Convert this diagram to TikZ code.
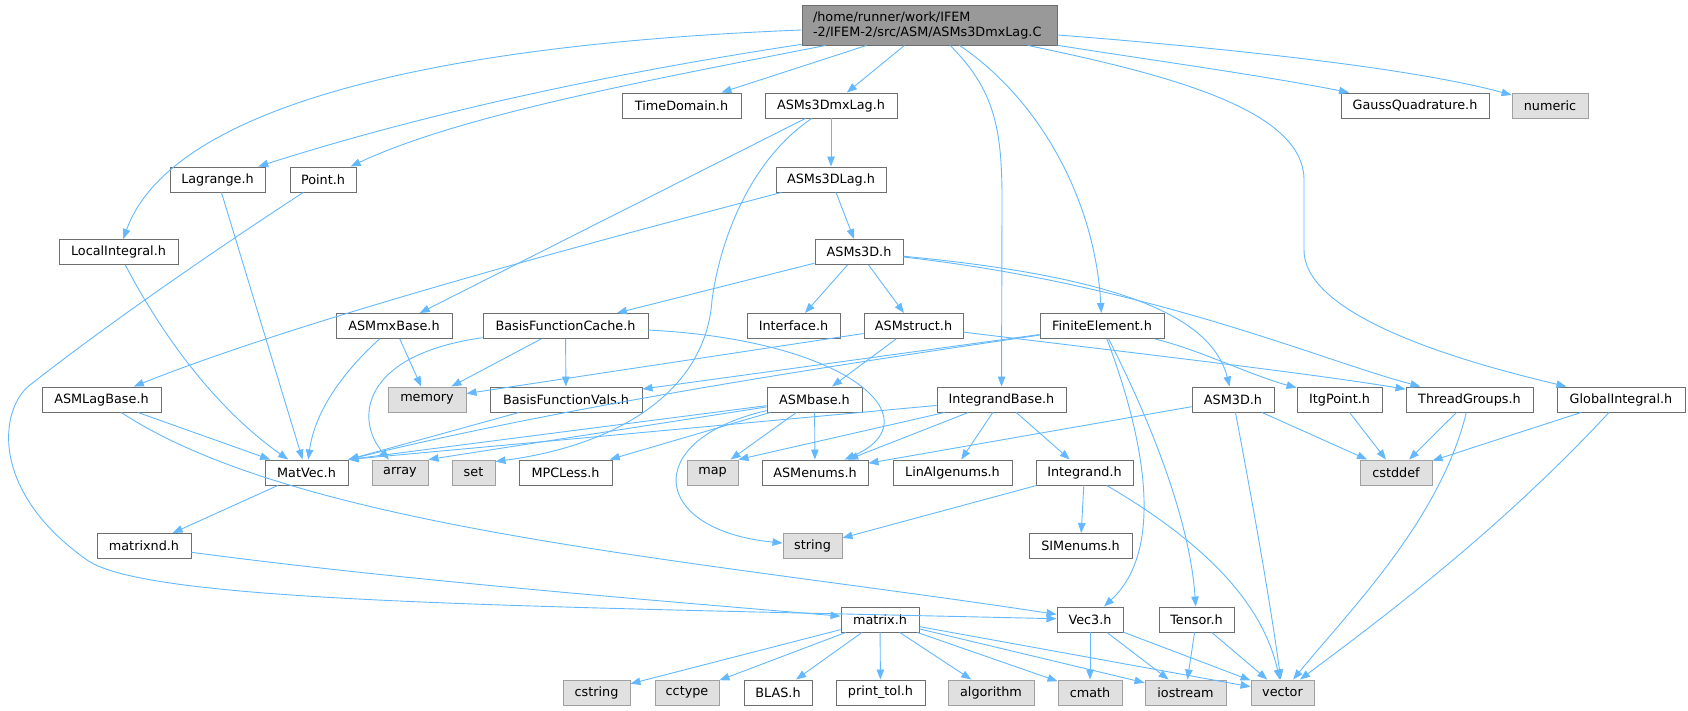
\documentclass[tikz,border=0pt]{standalone}
\usepackage{fontspec}
\setmainfont{DejaVu Sans}
\usetikzlibrary{arrows.meta}

\definecolor{edgeblue}{HTML}{63B8FF}
\definecolor{boxline}{HTML}{6E6E6E}
\definecolor{sysline}{HTML}{A0A0A0}
\definecolor{sysfill}{HTML}{E0E0E0}
\definecolor{mainfill}{HTML}{999999}

\tikzset{
    hfile/.style={draw=boxline, fill=white, line width=0.95pt, rectangle, minimum height=25pt, inner sep=0pt, font=\fontsize{12.8}{15}\selectfont},
    sysfile/.style={hfile, draw=sysline, fill=sysfill},
    mainfile/.style={hfile, fill=mainfill, minimum height=40pt, text width=233pt, inner xsep=11pt, align=left},
    dep/.style={draw=edgeblue, line width=0.9pt, -{Triangle[length=10pt,width=7.5pt]}},
}

\begin{document}
\begin{tikzpicture}[x=1pt, y=-1pt]

        \useasboundingbox (0,0) rectangle (1688,711);

        % Source file
        \node (main) [mainfile] at (929.5,25) {/home/runner/work/IFEM\\-2/IFEM-2/src/ASM/ASMs3DmxLag.C};

        % Header nodes
        \node (timedomain) [hfile, minimum width=119pt] at (681.5,105.5) {TimeDomain.h};
        \node (asmsmxlag) [hfile, minimum width=132pt] at (831,105.5) {ASMs3DmxLag.h};
        \node (gaussquad) [hfile, minimum width=148pt] at (1415,105.5) {GaussQuadrature.h};
        \node (numeric) [sysfile, minimum width=76pt] at (1550,105.5) {numeric};

        \node (lagrange) [hfile, minimum width=95pt] at (217.5,179.5) {Lagrange.h};
        \node (point) [hfile, minimum width=66pt] at (323,179.5) {Point.h};
        \node (asmslag) [hfile, minimum width=110pt] at (831,179.5) {ASMs3DLag.h};

        \node (localint) [hfile, minimum width=119pt] at (118.5,252) {LocalIntegral.h};
        \node (asmsthree) [hfile, minimum width=88pt] at (859,252) {ASMs3D.h};

        \node (asmmxbase) [hfile, minimum width=116pt] at (394,326) {ASMmxBase.h};
        \node (bfcache) [hfile, minimum width=165pt] at (565.5,326) {BasisFunctionCache.h};
        \node (interface) [hfile, minimum width=93pt] at (793.5,326) {Interface.h};
        \node (asmstruct) [hfile, minimum width=99pt] at (913.5,326) {ASMstruct.h};
        \node (finiteelem) [hfile, minimum width=124pt] at (1102,326) {FiniteElement.h};

        \node (asmlagbase) [hfile, minimum width=119pt] at (101.5,399.5) {ASMLagBase.h};
        \node (memory) [sysfile, minimum width=78pt] at (427,399.5) {memory};
        \node (bfvals) [hfile, minimum width=152pt] at (566,399.5) {BasisFunctionVals.h};
        \node (asmbase) [hfile, minimum width=95pt] at (814.5,399.5) {ASMbase.h};
        \node (integrandbase) [hfile, minimum width=129pt] at (1001.5,399.5) {IntegrandBase.h};
        \node (asmthreed) [hfile, minimum width=82pt] at (1233,399.5) {ASM3D.h};
        \node (itgpoint) [hfile, minimum width=85pt] at (1339.5,399.5) {ItgPoint.h};
        \node (threadgroups) [hfile, minimum width=127pt] at (1469.5,399.5) {ThreadGroups.h};
        \node (globalint) [hfile, minimum width=128pt] at (1621,399.5) {GlobalIntegral.h};

        \node (matvec) [hfile, minimum width=83pt] at (306.5,472.5) {MatVec.h};
        \node (array) [sysfile, minimum width=56pt] at (400,472.5) {array};
        \node (set) [sysfile, minimum width=43pt] at (473.5,472.5) {set};
        \node (mpcless) [hfile, minimum width=93pt] at (565.5,472.5) {MPCLess.h};
        \node (map) [sysfile, minimum width=51pt] at (712.5,472.5) {map};
        \node (asmenums) [hfile, minimum width=106pt] at (815,472.5) {ASMenums.h};
        \node (linalgenums) [hfile, minimum width=119pt] at (952.5,472.5) {LinAlgenums.h};
        \node (integrand) [hfile, minimum width=97pt] at (1084.5,472.5) {Integrand.h};
        \node (cstddef) [sysfile, minimum width=72pt] at (1396,472.5) {cstddef};

        \node (matrixnd) [hfile, minimum width=94pt] at (144,546) {matrixnd.h};
        \node (string) [sysfile, minimum width=59pt] at (812.5,546) {string};
        \node (simenums) [hfile, minimum width=103pt] at (1080.5,546) {SIMenums.h};

        \node (matrix) [hfile, minimum width=78pt] at (880,619.5) {matrix.h};
        \node (vecthree) [hfile, minimum width=66pt] at (1090,619.5) {Vec3.h};
        \node (tensor) [hfile, minimum width=75pt] at (1196.5,619.5) {Tensor.h};

        \node (cstring) [sysfile, minimum width=67pt] at (596.5,692.5) {cstring};
        \node (cctype) [sysfile, minimum width=64pt] at (687,692.5) {cctype};
        \node (blas) [hfile, minimum width=68pt] at (778,692.5) {BLAS.h};
        \node (printtol) [hfile, minimum width=89pt] at (880.5,692.5) {print\_tol.h};
        \node (algorithm) [sysfile, minimum width=86pt] at (991,692.5) {algorithm};
        \node (cmath) [sysfile, minimum width=64pt] at (1090,692.5) {cmath};
        \node (iostream) [sysfile, minimum width=81pt] at (1185.5,692.5) {iostream};
        \node (vector) [sysfile, minimum width=63pt] at (1282.5,692.5) {vector};

        % Includes of the source file
        \draw[dep] (main) .. controls (420,45) and (170,110) .. (localint);
        \draw[dep] (main) .. controls (600,75) and (420,115) .. (lagrange);
        \draw[dep] (main) .. controls (650,80) and (460,115) .. (point);
        \draw[dep] (main) -- (timedomain);
        \draw[dep] (main) -- (asmsmxlag);
        \draw[dep] (main) .. controls (995,90) and (1002,130) .. (1002,200) -- (integrandbase);
        \draw[dep] (main) .. controls (1040,100) and (1095,200) .. (finiteelem);
        \draw[dep] (main) .. controls (1150,60) and (1260,75) .. (gaussquad);
        \draw[dep] (main) .. controls (1250,50) and (1420,70) .. (numeric);
        \draw[dep] (main) .. controls (1170,75) and (1304,110) .. (1304,180) -- (1304,250) .. controls (1304,320) and (1480,366) .. (globalint);

        % Header includes
        \draw[dep] (asmsmxlag) -- (asmslag);
        \draw[dep] (asmsmxlag) -- (asmmxbase);
        \draw[dep] (asmsmxlag) .. controls (750,160) and (720,240) .. (712,300) .. controls (706,390) and (620,445) .. ([yshift=-2pt]set.north east);
        \draw[dep] (asmslag) -- (asmsthree);
        \draw[dep] (asmslag) .. controls (600,240) and (300,320) .. (asmlagbase);
        \draw[dep] (asmsthree) -- (bfcache);
        \draw[dep] (asmsthree) -- (interface);
        \draw[dep] (asmsthree) -- (asmstruct);
        \draw[dep] (asmsthree) .. controls (1100,275) and (1210,310) .. (asmthreed);
        \draw[dep] (asmsthree) .. controls (1150,285) and (1320,360) .. (threadgroups);
        \draw[dep] (localint) .. controls (170,350) and (225,415) .. (matvec);
        \draw[dep] (lagrange) -- (matvec);
        \draw[dep] (point) .. controls (200,260) and (100,330) .. (30,385) .. controls (0,408) and (-12,490) .. (87,560) .. controls (147,602) and (500,606) .. (vecthree);
        \draw[dep] (asmmxbase) -- (memory);
        \draw[dep] (asmmxbase) .. controls (345,370) and (315,410) .. (matvec);
        \draw[dep] (bfcache) -- (memory);
        \draw[dep] (bfcache) -- (bfvals);
        \draw[dep] (bfcache) .. controls (360,355) and (355,420) .. (array);
        \draw[dep] (bfcache) .. controls (850,340) and (935,420) .. (asmenums);
        \draw[dep] (asmstruct) -- (memory);
        \draw[dep] (asmstruct) -- (asmbase);
        \draw[dep] (asmstruct) .. controls (1150,355) and (1300,372) .. (threadgroups);
        \draw[dep] (finiteelem) -- (bfvals);
        \draw[dep] (finiteelem) .. controls (800,370) and (550,410) .. (matvec.north east);
        \draw[dep] (finiteelem) .. controls (1200,350) and (1250,375) .. (itgpoint);
        \draw[dep] (finiteelem) .. controls (1145,440) and (1165,550) .. (vecthree);
        \draw[dep] (finiteelem) .. controls (1150,420) and (1190,520) .. (tensor);
        \draw[dep] (asmlagbase) -- (matvec);
        \draw[dep] (asmlagbase) .. controls (300,530) and (700,560) .. (vecthree);
        \draw[dep] (bfvals) -- (matvec.north east);
        \draw[dep] (asmbase) -- (matvec.north east);
        \draw[dep] (asmbase) -- (array.north east);
        \draw[dep] (asmbase) -- (mpcless);
        \draw[dep] (asmbase) -- (map);
        \draw[dep] (asmbase) -- (asmenums);
        \draw[dep] (asmbase) .. controls (640,440) and (650,530) .. (string);
        \draw[dep] (integrandbase) -- (matvec.north east);
        \draw[dep] (integrandbase) -- (map.north east);
        \draw[dep] (integrandbase) -- (asmenums);
        \draw[dep] (integrandbase) -- (linalgenums);
        \draw[dep] (integrandbase) -- (integrand);
        \draw[dep] (asmthreed) -- (asmenums);
        \draw[dep] (asmthreed) -- (cstddef);
        \draw[dep] (asmthreed) .. controls (1252,500) and (1270,600) .. (vector);
        \draw[dep] (itgpoint) -- (cstddef);
        \draw[dep] (threadgroups) -- (cstddef);
        \draw[dep] (threadgroups) .. controls (1440,520) and (1350,610) .. (vector);
        \draw[dep] (globalint) -- (cstddef);
        \draw[dep] (globalint) .. controls (1500,530) and (1380,620) .. (vector);
        \draw[dep] (integrand) -- (string);
        \draw[dep] (integrand) -- (simenums);
        \draw[dep] (integrand) .. controls (1200,540) and (1262,600) .. (vector);
        \draw[dep] (matvec) -- (matrixnd);
        \draw[dep] (matrixnd) .. controls (400,580) and (650,600) .. (matrix);
        \draw[dep] (vecthree) -- (cmath);
        \draw[dep] (vecthree) -- (iostream);
        \draw[dep] (vecthree) -- (vector);
        \draw[dep] (tensor) -- (iostream);
        \draw[dep] (tensor) -- (vector);

        % matrix.h includes
        \draw[dep] (matrix) -- (cstring);
        \draw[dep] (matrix) -- (cctype);
        \draw[dep] (matrix) -- (blas);
        \draw[dep] (matrix) -- (printtol);
        \draw[dep] (matrix) -- (algorithm);
        \draw[dep] (matrix) -- (cmath);
        \draw[dep] (matrix) -- (iostream);
        \draw[dep] (matrix) -- (vector);

\end{tikzpicture}
\end{document}
